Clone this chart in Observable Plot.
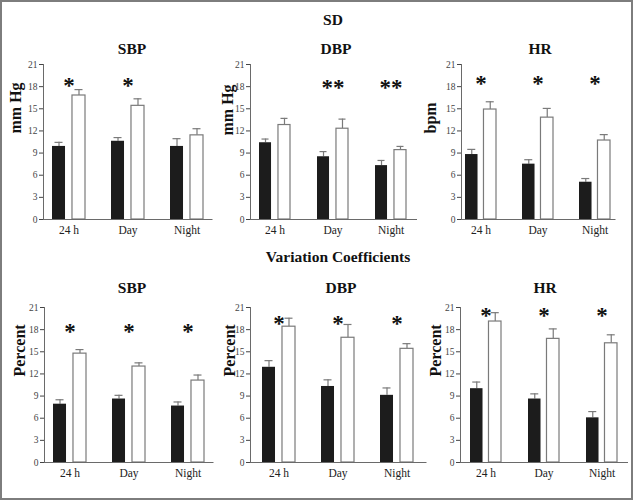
<!DOCTYPE html>
<html><head><meta charset="utf-8">
<script src="https://cdn.jsdelivr.net/npm/d3@7"></script>
<script src="https://cdn.jsdelivr.net/npm/@observablehq/plot@0.6"></script>
<style>
body{margin:0;background:#fff}
#chart{position:relative;width:633px;height:500px;overflow:hidden;background:#fff}
#chart, #chart div, #chart svg, #chart svg text{font-family:"Liberation Serif","Times New Roman","DejaVu Serif",serif !important}
.frame{position:absolute;left:0;top:0;width:633px;height:500px;box-sizing:border-box;border:2px solid #7d7d7d;pointer-events:none}
.t{position:absolute;transform:translate(-50%,-50%);font-weight:bold;font-size:15.5px;white-space:nowrap;color:#111;line-height:1}
.p{position:absolute}
</style></head><body><div id="chart"><div class="frame"></div></div><script>
// ---- data ----
const categories = ["24 h", "Day", "Night"];
const groups = ["Group 1", "Group 2"];
const yTicks = [0, 3, 6, 9, 12, 15, 18, 21];

// SD panels (mm Hg / bpm)
const sdSBP_g1 = [9.9, 10.6, 9.9],   sdSBP_g1_se = [0.55, 0.5, 1.05];
const sdSBP_g2 = [16.8, 15.4, 11.4], sdSBP_g2_se = [0.8, 0.95, 0.9];
const sdSBP_sig = ["*", "*", ""];
const sdDBP_g1 = [10.4, 8.5, 7.3],   sdDBP_g1_se = [0.5, 0.7, 0.7];
const sdDBP_g2 = [12.8, 12.3, 9.4],  sdDBP_g2_se = [0.9, 1.3, 0.5];
const sdDBP_sig = ["", "**", "**"];
const sdHR_g1 = [8.8, 7.5, 5.05],    sdHR_g1_se = [0.7, 0.6, 0.5];
const sdHR_g2 = [14.9, 13.8, 10.7],  sdHR_g2_se = [1.05, 1.25, 0.8];
const sdHR_sig = ["*", "*", "*"];

// Variation coefficient panels (percent)
const cvSBP_g1 = [7.9, 8.6, 7.65],   cvSBP_g1_se = [0.6, 0.5, 0.55];
const cvSBP_g2 = [14.75, 13.0, 11.1],cvSBP_g2_se = [0.55, 0.5, 0.75];
const cvSBP_sig = ["*", "*", "*"];
const cvDBP_g1 = [12.9, 10.3, 9.1],  cvDBP_g1_se = [0.9, 0.9, 1.0];
const cvDBP_g2 = [18.4, 16.9, 15.4], cvDBP_g2_se = [1.15, 1.8, 0.7];
const cvDBP_sig = ["*", "*", "*"];
const cvHR_g1 = [10.0, 8.6, 6.05],   cvHR_g1_se = [0.9, 0.7, 0.85];
const cvHR_g2 = [19.1, 16.75, 16.15],cvHR_g2_se = [1.2, 1.35, 1.15];
const cvHR_sig = ["*", "*", "*"];

// height (in data units) where significance marks sit
const starLevels = {sdSBP: 18.8, sdDBP: 18.5, sdHR: 19.1, cvSBP: 18.4, cvDBP: 19.5, cvHR: 20.6};

const sectionTitles = ["SD", "Variation Coefficients"];

// ---- layout ----
const panels = [
  {key:"sdSBP", title:"SBP", ylabel:"mm Hg", g1:sdSBP_g1, g1se:sdSBP_g1_se, g2:sdSBP_g2, g2se:sdSBP_g2_se, sig:sdSBP_sig,
   left:0, top:54, axis:43, end:211.5, pi:.448, po:.134, barW:13, lx:28, ly:-8.5, tx:132, ty:49},
  {key:"sdDBP", title:"DBP", ylabel:"mm Hg", g1:sdDBP_g1, g1se:sdDBP_g1_se, g2:sdDBP_g2, g2se:sdDBP_g2_se, sig:sdDBP_sig,
   left:211, top:54, axis:250, end:416, pi:.458, po:.136, barW:13, lx:23, ly:-6.5, tx:336, ty:49},
  {key:"sdHR", title:"HR", ylabel:"bpm", g1:sdHR_g1, g1se:sdHR_g1_se, g2:sdHR_g2, g2se:sdHR_g2_se, sig:sdHR_sig,
   left:422, top:54, axis:461, end:614.5, pi:.459, po:.07, barW:12.5, lx:31, ly:-8.5, tx:540, ty:49},
  {key:"cvSBP", title:"SBP", ylabel:"Percent", g1:cvSBP_g1, g1se:cvSBP_g1_se, g2:cvSBP_g2, g2se:cvSBP_g2_se, sig:cvSBP_sig,
   left:0, top:297, axis:44, end:212.5, pi:.448, po:.134, barW:13, lx:25, ly:-8.5, tx:132, ty:288},
  {key:"cvDBP", title:"DBP", ylabel:"Percent", g1:cvDBP_g1, g1se:cvDBP_g1_se, g2:cvDBP_g2, g2se:cvDBP_g2_se, sig:cvDBP_sig,
   left:211, top:297, axis:250, end:425.5, pi:.443, po:.203, barW:13, lx:21, ly:-8.5, tx:341, ty:288},
  {key:"cvHR", title:"HR", ylabel:"Percent", g1:cvHR_g1, g1se:cvHR_g1_se, g2:cvHR_g2, g2se:cvHR_g2_se, sig:cvHR_sig,
   left:422, top:297, axis:460, end:627, pi:.466, po:.172, barW:12.5, lx:25, ly:-8.5, tx:545, ty:288}
];

const chart = document.getElementById("chart");
function addText(txt, x, y){
  const d = document.createElement("div");
  d.className = "t"; d.textContent = txt;
  d.style.left = x + "px"; d.style.top = y + "px";
  chart.appendChild(d);
}
addText(sectionTitles[0], 333, 20);
addText(sectionTitles[1], 338, 257);

const FONT = "'Liberation Serif', 'Times New Roman', serif";
panels.forEach(cfg => {
  const g1 = categories.map((c,i) => ({cat:c, group:groups[0], v:cfg.g1[i], top:cfg.g1[i] + cfg.g1se[i]}));
  const g2 = categories.map((c,i) => ({cat:c, group:groups[1], v:cfg.g2[i], top:cfg.g2[i] + cfg.g2se[i]}));
  const stars = categories.map((c,i) => ({cat:c, s:cfg.sig[i], y:starLevels[cfg.key]})).filter(d => d.s);
  const mr = 4;
  const ml = cfg.axis - cfg.left;
  const width = cfg.end - cfg.left + mr;
  const total = cfg.end - cfg.axis;
  const step = total / (3 - cfg.pi + 2 * cfg.po);
  const bw = step * (1 - cfg.pi);
  const inset = bw - cfg.barW;
  const off = (bw - cfg.barW) / 2;
  const cap = 4;
  const capNear = cfg.barW / 2 - cap, capFar = bw - cfg.barW / 2 - cap;

  const svg = Plot.plot({
    width, height: 200,
    marginLeft: ml, marginRight: mr, marginTop: 10, marginBottom: 35,
    style: {fontFamily: FONT, background: "transparent", overflow: "visible"},
    x: {domain: categories, paddingInner: cfg.pi, paddingOuter: cfg.po, align: 0.5},
    y: {domain: [0, 21]},
    marks: [
      Plot.ruleX(g1, {x:"cat", y1:"v", y2:"top", dx:-off, stroke:"#7a7a7a", strokeWidth:1.2}),
      Plot.tickY(g1, {x:"cat", y:"top", insetLeft:capNear, insetRight:capFar, stroke:"#7a7a7a", strokeWidth:1.2}),
      Plot.ruleX(g2, {x:"cat", y1:"v", y2:"top", dx:off, stroke:"#7a7a7a", strokeWidth:1.2}),
      Plot.tickY(g2, {x:"cat", y:"top", insetLeft:capFar, insetRight:capNear, stroke:"#7a7a7a", strokeWidth:1.2}),
      Plot.barY(g1, {x:"cat", y:"v", insetRight:inset, fill:"#1c1c1c"}),
      Plot.barY(g2, {x:"cat", y:"v", insetLeft:inset, fill:"#fff", stroke:"#7a7a7a", strokeWidth:1.2}),
      Plot.text(stars, {x:"cat", y:"y", text:"s", fontSize:23, fontWeight:"bold", dy:5, fill:"#111", fontFamily:FONT}),
      Plot.frame({anchor:"left", stroke:"#6a6a6a"}),
      Plot.frame({anchor:"bottom", stroke:"#6a6a6a"}),
      Plot.axisY({ticks: yTicks, tickSize:4, tickPadding:2, fontSize:9.5, label:null, color:"#444", fontFamily:FONT}),
      Plot.axisX({tickSize:0, tickPadding:6, fontSize:11.5, label:null, color:"#222", fontFamily:FONT}),
      Plot.text([cfg.ylabel], {frameAnchor:"left", rotate:-90, dx:-cfg.lx, dy:cfg.ly, fontSize:16, fontWeight:"bold", fill:"#111", fontFamily:FONT})
    ]
  });
  const wrap = document.createElement("div");
  wrap.className = "p";
  wrap.style.left = cfg.left + "px";
  wrap.style.top = cfg.top + "px";
  wrap.appendChild(svg);
  chart.appendChild(wrap);
  addText(cfg.title, cfg.tx, cfg.ty);
});
</script></body></html>
